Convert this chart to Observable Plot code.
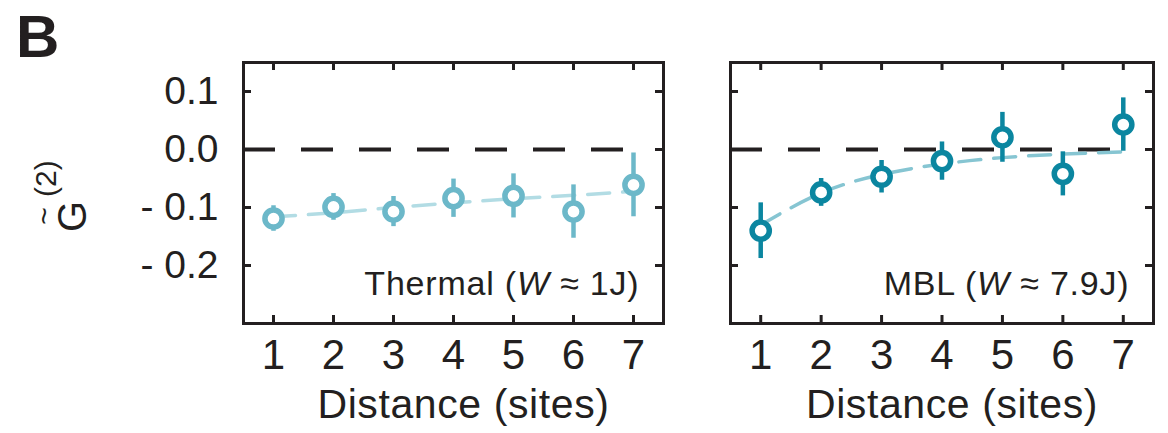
<!DOCTYPE html>
<html>
<head>
<meta charset="utf-8">
<script src="https://cdn.jsdelivr.net/npm/d3@7"></script>
<script src="https://cdn.jsdelivr.net/npm/@observablehq/plot@0.6"></script>
<style>
  html, body { margin: 0; padding: 0; background: white; }
  #wrap { position: relative; width: 1168px; height: 433px; overflow: hidden; font-family: "Liberation Sans", Arial, sans-serif; }
  #wrap > svg, #wrap > figure { position: absolute; top: 0; margin: 0; }
</style>
</head>
<body>
<div id="wrap"></div>
<script>
// ---- data ----
const distance = [1, 2, 3, 4, 5, 6, 7];
const xTicks = [1, 2, 3, 4, 5, 6, 7];
const yTicks = [0.1, 0.0, -0.1, -0.2];
const yTickLabels = ["0.1", "0.0", "- 0.1", "- 0.2"];
const xDomain = [0.5, 7.5];
const yDomain = [-0.3, 0.15];

const thermalG   = [-0.119, -0.099, -0.107, -0.084, -0.080, -0.107, -0.061];
const thermalErr = [0.022, 0.023, 0.026, 0.033, 0.038, 0.046, 0.055];
const thermalFit = [-0.116, -0.109, -0.100, -0.092, -0.085, -0.079, -0.072];

const mblG   = [-0.140, -0.074, -0.047, -0.020, 0.021, -0.042, 0.043];
const mblErr = [0.048, 0.024, 0.028, 0.033, 0.043, 0.038, 0.046];
const mblFit = [-0.130, -0.075, -0.043, -0.025, -0.014, -0.008, -0.004];

const xLabel = "Distance (sites)";
const ink = "#231f20";

function panel({g, err, fit, color, fitColor, annParts, showY, width, marginLeft, marginRight, annDx, annDy}) {
  const height = 433, marginTop = 62, marginBottom = 110;
  const innerH = height - marginTop - marginBottom;
  const innerW = width - marginLeft - marginRight;
  const rows = distance.map((d, i) => ({d, g: g[i], lo: g[i] - err[i], hi: g[i] + err[i]}));
  const fitRows = distance.map((d, i) => ({d, f: fit[i]}));
  const tl = 8;
  const chart = Plot.plot({
    width, height, marginTop, marginBottom, marginLeft, marginRight,
    x: {domain: xDomain},
    y: {domain: yDomain, axis: showY ? undefined : null},
    style: {fontFamily: '"Liberation Sans", Arial, sans-serif', color: ink, background: "transparent", overflow: "visible"},
    marks: [
      Plot.ruleY([0], {x1: xDomain[0], x2: xTicks[xTicks.length - 1], stroke: ink, strokeWidth: 4, strokeDasharray: "32,26"}),
      Plot.line(fitRows, {x: "d", y: "f", stroke: fitColor, strokeWidth: 3.5, strokeDasharray: "22,13", curve: "natural"}),
      Plot.ruleX(rows, {x: "d", y1: "lo", y2: "hi", stroke: color, strokeWidth: 4.5}),
      Plot.dot(rows, {x: "d", y: "g", r: 8.6, stroke: color, strokeWidth: 5.5, fill: "white"}),
      Plot.tickX(xTicks, {x: d => d, insetBottom: innerH - tl, stroke: ink, strokeWidth: 3}),
      Plot.tickX(xTicks, {x: d => d, insetTop: innerH - tl, stroke: ink, strokeWidth: 3}),
      Plot.tickY(yTicks, {y: d => d, insetRight: innerW - tl, stroke: ink, strokeWidth: 3}),
      Plot.tickY(yTicks, {y: d => d, insetLeft: innerW - tl, stroke: ink, strokeWidth: 3}),
      Plot.frame({stroke: ink, strokeWidth: 3}),
      Plot.axisX({ticks: xTicks, tickSize: 0, tickPadding: 16, fontSize: 42, label: null, tickFormat: d => String(d)}),
      showY ? Plot.axisY({ticks: yTicks, tickSize: 0, tickPadding: 25, fontSize: 39, label: null,
        tickFormat: d => yTickLabels[yTicks.indexOf(d)]}) : null,
      Plot.text([xLabel], {frameAnchor: "bottom", lineAnchor: "bottom", dx: 10, dy: 94, fontSize: 41, fill: ink, className: "xlab"}),
      Plot.text([annParts.join("")], {frameAnchor: "bottom-right", textAnchor: "end", lineAnchor: "bottom",
        dx: annDx, dy: annDy, fontSize: 34, fill: ink, className: "ann"})
    ]
  });
  d3.select(chart).selectAll("g.xlab text").style("letter-spacing", "0.6px");
  // italic W inside the annotation
  d3.select(chart).selectAll("g.ann text").each(function() {
    const t = d3.select(this);
    t.text(null);
    t.style("letter-spacing", "0.8px");
    t.append("tspan").text(annParts[0]);
    t.append("tspan").attr("font-style", "italic").text(annParts[1]);
    t.append("tspan").text(annParts[2]);
  });
  return chart;
}

const wrap = document.getElementById("wrap");

const left = panel({
  g: thermalG, err: thermalErr, fit: thermalFit,
  color: "#6cb8c9", fitColor: "#b2dce4",
  annParts: ["Thermal (", "W", " ≈ 1J)"],
  showY: true, width: 690, marginLeft: 243, marginRight: 27, annDx: -24, annDy: -29
});
left.style.left = "0px";
wrap.appendChild(left);

const right = panel({
  g: mblG, err: mblErr, fit: mblFit,
  color: "#0b86a0", fitColor: "#86c5d2",
  annParts: ["MBL (", "W", " ≈ 7.9J)"],
  showY: false, width: 478, marginLeft: 40, marginRight: 15, annDx: -24, annDy: -29
});
right.style.left = "690px";
wrap.appendChild(right);

// overlay: panel letter and y-axis label (rotated, reading bottom to top)
const ov = d3.create("svg").attr("width", 1168).attr("height", 433)
  .style("position", "absolute").style("left", "0px").style("top", "0px").style("pointer-events", "none")
  .style("font-family", '"Liberation Sans", Arial, sans-serif');
ov.append("text").attr("x", 16).attr("y", 57).attr("font-size", 60).attr("font-weight", "bold").attr("fill", ink).text("B");
const yl = ov.append("g").attr("transform", "translate(86,196) rotate(-90)").attr("fill", ink);
const ylt = yl.append("text").attr("x", -36).attr("y", 0).attr("font-size", 40);
ylt.append("tspan").text("G");
ylt.append("tspan").attr("dx", 4).attr("dy", -30).attr("font-size", 30).text("(2)");
yl.append("text").attr("x", -20).attr("y", -32).attr("font-size", 30).attr("text-anchor", "middle").text("~");
wrap.appendChild(ov.node());
</script>
</body>
</html>
